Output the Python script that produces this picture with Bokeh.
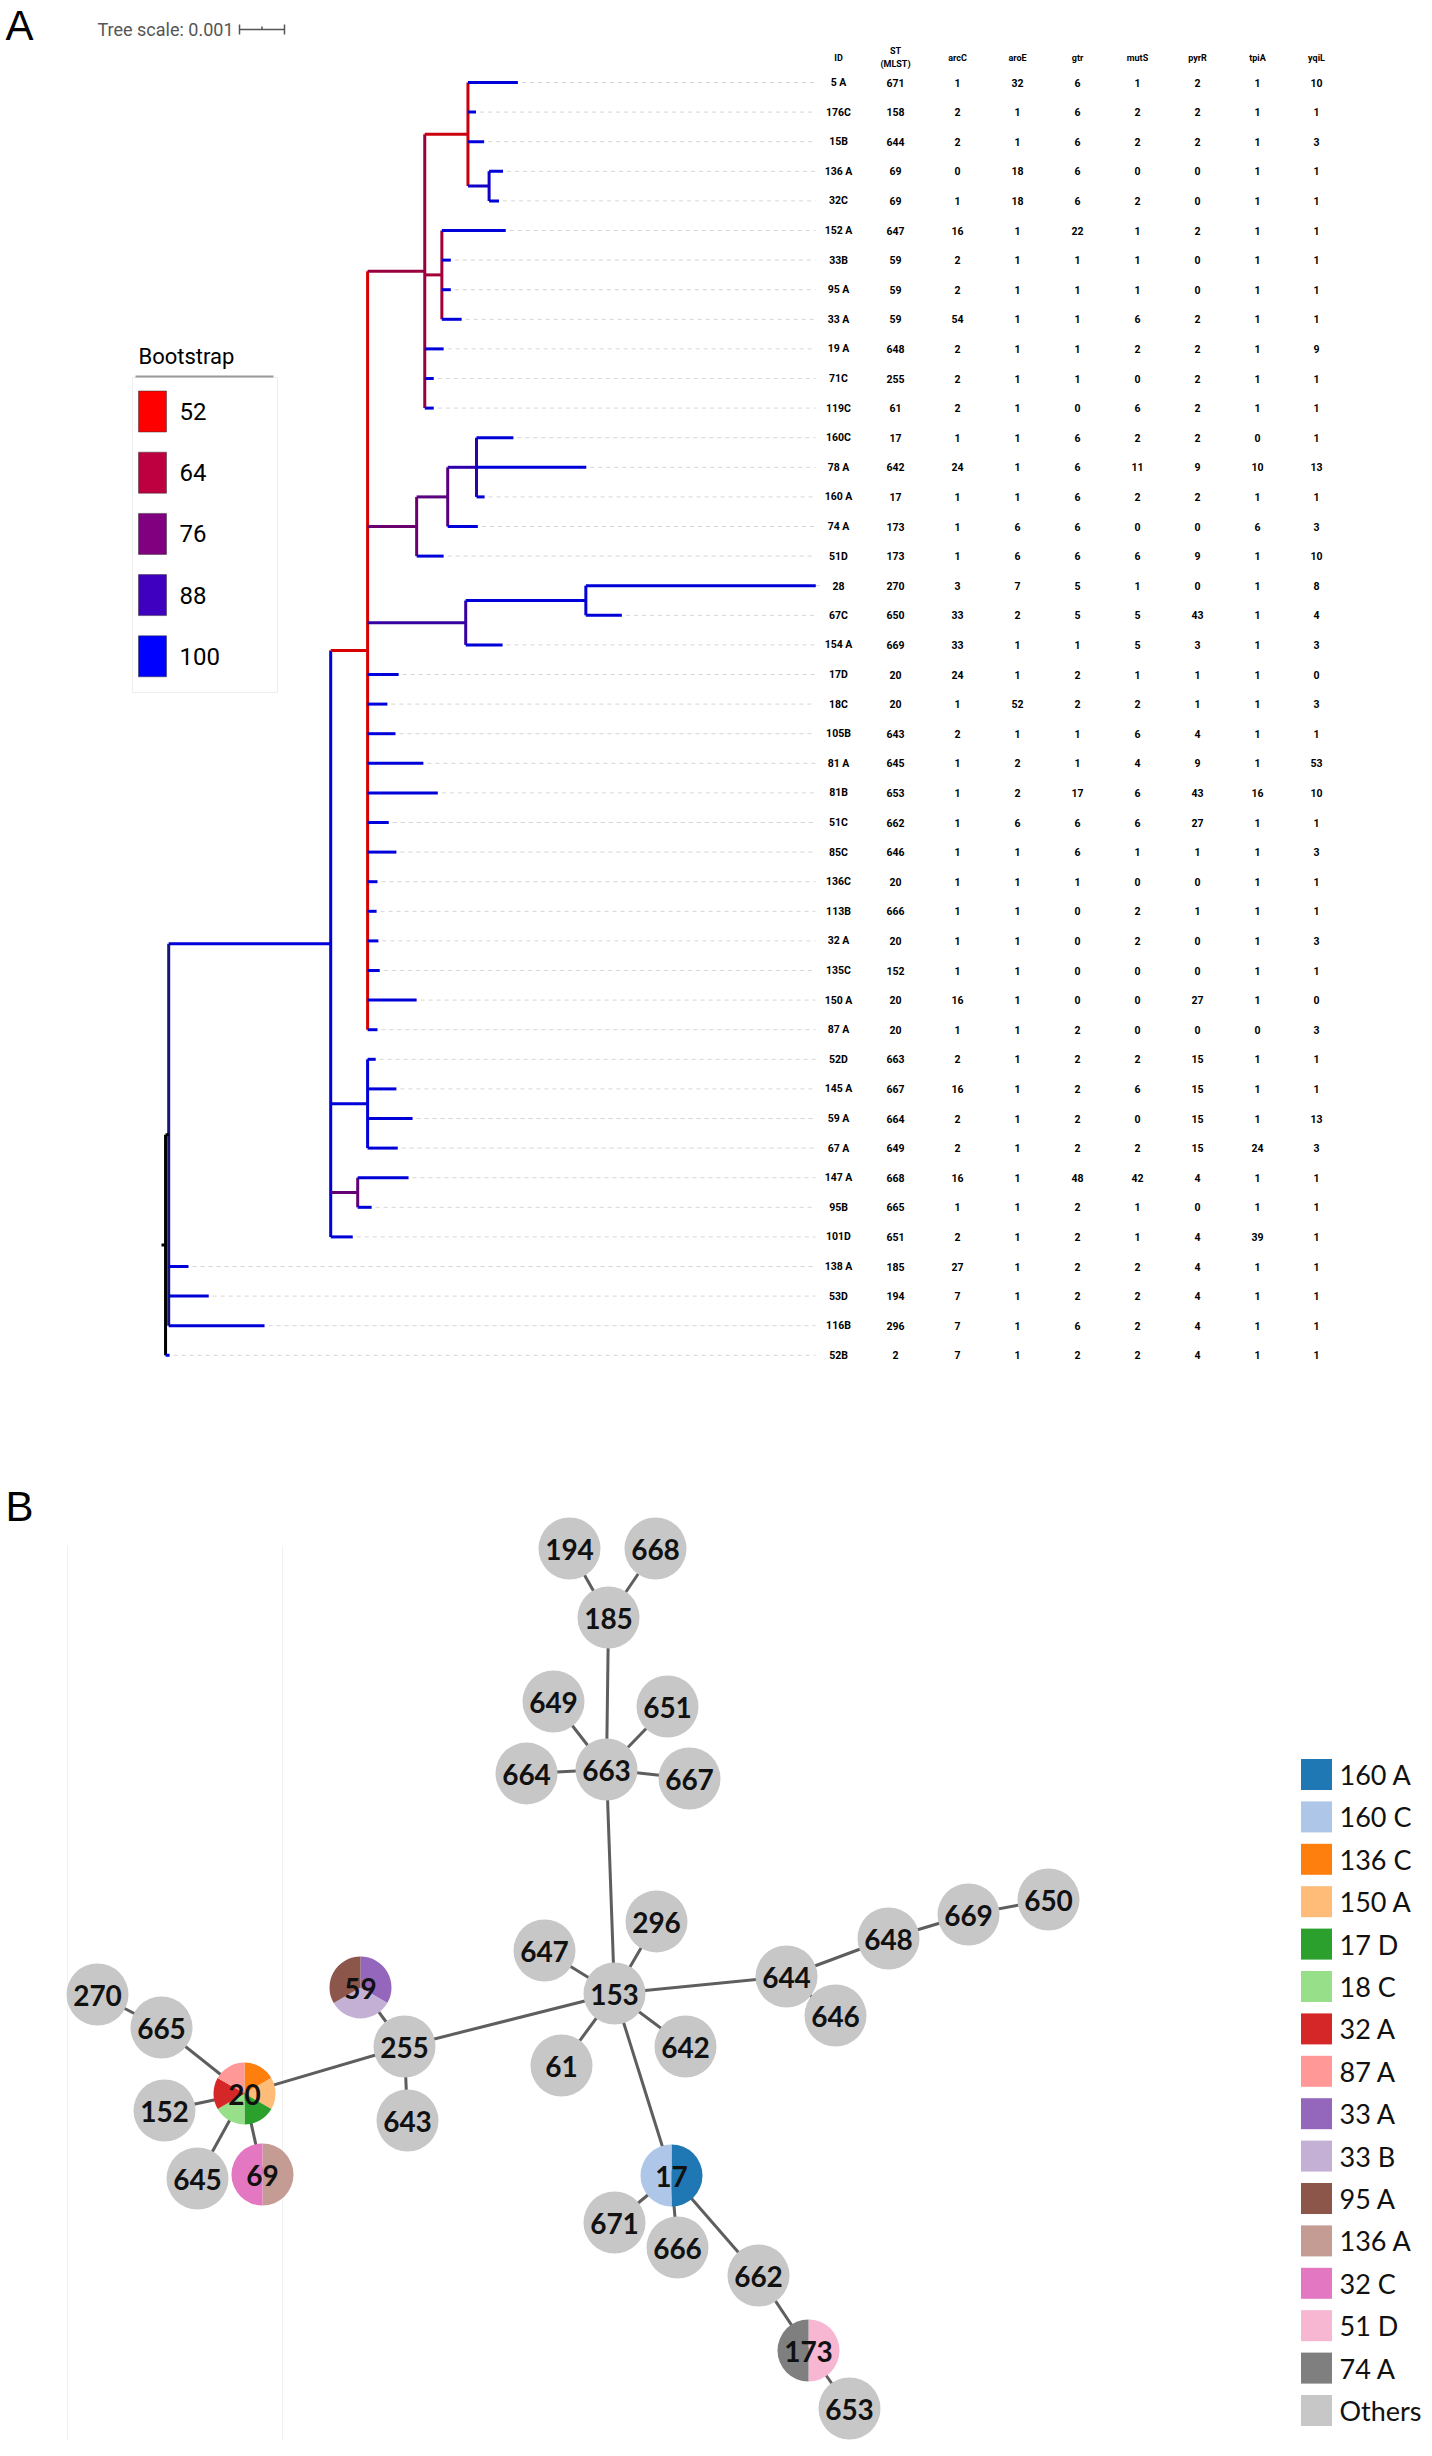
from bokeh.plotting import figure
from bokeh.models import Range1d
from bokeh.core.properties import value
from bokeh.embed import file_html
from bokeh.resources import INLINE

# ---------------- Panel A data: MLST table ----------------
ids = ["5 A", "176C", "15B", "136 A", "32C", "152 A", "33B", "95 A", "33 A", "19 A",
       "71C", "119C", "160C", "78 A", "160 A", "74 A", "51D", "28", "67C", "154 A",
       "17D", "18C", "105B", "81 A", "81B", "51C", "85C", "136C", "113B", "32 A",
       "135C", "150 A", "87 A", "52D", "145 A", "59 A", "67 A", "147 A", "95B", "101D",
       "138 A", "53D", "116B", "52B"]
st = [671, 158, 644, 69, 69, 647, 59, 59, 59, 648, 255, 61, 17, 642, 17, 173, 173, 270, 650, 669,
      20, 20, 643, 645, 653, 662, 646, 20, 666, 20, 152, 20, 20, 663, 667, 664, 649, 668, 665, 651,
      185, 194, 296, 2]
arcC = [1, 2, 2, 0, 1, 16, 2, 2, 54, 2, 2, 2, 1, 24, 1, 1, 1, 3, 33, 33, 24, 1, 2, 1, 1, 1, 1, 1, 1, 1,
        1, 16, 1, 2, 16, 2, 2, 16, 1, 2, 27, 7, 7, 7]
aroE = [32, 1, 1, 18, 18, 1, 1, 1, 1, 1, 1, 1, 1, 1, 1, 6, 6, 7, 2, 1, 1, 52, 1, 2, 2, 6, 1, 1, 1, 1,
        1, 1, 1, 1, 1, 1, 1, 1, 1, 1, 1, 1, 1, 1]
gtr = [6, 6, 6, 6, 6, 22, 1, 1, 1, 1, 1, 0, 6, 6, 6, 6, 6, 5, 5, 1, 2, 2, 1, 1, 17, 6, 6, 1, 0, 0,
       0, 0, 2, 2, 2, 2, 2, 48, 2, 2, 2, 2, 6, 2]
mutS = [1, 2, 2, 0, 2, 1, 1, 1, 6, 2, 0, 6, 2, 11, 2, 0, 6, 1, 5, 5, 1, 2, 6, 4, 6, 6, 1, 0, 2, 2,
        0, 0, 0, 2, 6, 0, 2, 42, 1, 1, 2, 2, 2, 2]
pyrR = [2, 2, 2, 0, 0, 2, 0, 0, 2, 2, 2, 2, 2, 9, 2, 0, 9, 0, 43, 3, 1, 1, 4, 9, 43, 27, 1, 0, 1, 0,
        0, 27, 0, 15, 15, 15, 15, 4, 0, 4, 4, 4, 4, 4]
tpiA = [1, 1, 1, 1, 1, 1, 1, 1, 1, 1, 1, 1, 0, 10, 1, 6, 1, 1, 1, 1, 1, 1, 1, 1, 16, 1, 1, 1, 1, 1,
        1, 1, 0, 1, 1, 1, 24, 1, 1, 39, 1, 1, 1, 1]
yqiL = [10, 1, 3, 1, 1, 1, 1, 1, 1, 9, 1, 1, 1, 13, 1, 3, 10, 8, 4, 3, 0, 3, 1, 53, 10, 1, 3, 1, 1, 3,
        1, 0, 3, 1, 1, 13, 3, 1, 1, 1, 1, 1, 1, 1]
table_headers = ["ID", "ST\n(MLST)", "arcC", "aroE", "gtr", "mutS", "pyrR", "tpiA", "yqiL"]

# ---------------- Panel A data: tree (branch lengths in units of 0.0001) ----------------
inner_nodes = ["root", "nM", "nJ", "nD", "nC", "nA", "nA2", "nB", "nE", "nF", "nG", "nH", "nI", "nK", "nL"]
inner_parent = [None, "root", "nM", "nJ", "nD", "nC", "nA", "nC", "nD", "nE", "nF", "nD", "nH", "nJ", "nJ"]
inner_length = [0.9, 0.7, 36.0, 8.2, 12.7, 9.6, 4.7, 3.8, 10.9, 6.9, 6.4, 21.8, 26.7, 8.2, 6.0]
inner_boot = [None, None, 100, 52, 66, 55, 96, 64, 76, 80, 90, 88, 100, 100, 78]
leaf_parent = ["nA", "nA", "nA", "nA2", "nA2", "nB", "nB", "nB", "nB", "nC",
               "nC", "nC", "nG", "nG", "nG", "nF", "nE", "nI", "nI", "nH",
               "nD", "nD", "nD", "nD", "nD", "nD", "nD", "nD", "nD", "nD",
               "nD", "nD", "nD", "nK", "nK", "nK", "nK", "nL", "nL", "nJ",
               "nM", "nM", "nM", "root"]
leaf_length = [11.1, 1.8, 3.6, 3.1, 2.2, 14.2, 2.0, 2.0, 4.4, 4.2,
               2.0, 2.0, 8.2, 24.4, 1.8, 6.7, 6.0, 51.1, 8.0, 8.2,
               6.9, 4.4, 6.2, 12.4, 15.6, 4.7, 6.4, 2.2, 2.0, 2.4,
               2.7, 10.9, 2.2, 1.8, 6.4, 10.0, 6.7, 11.3, 3.1, 4.9,
               4.4, 8.9, 21.3, 0.9]
boot_legend = [52, 64, 76, 88, 100]
tree_scale_value = 0.001

# ---------------- Panel B data: MST of STs ----------------
net_st = ["194", "668", "185", "649", "651", "664", "663", "667", "647", "296", "153", "644",
          "648", "669", "650", "646", "642", "61", "255", "59", "643", "270", "665", "20",
          "152", "645", "69", "17", "671", "666", "662", "173", "653"]
net_x = [569, 655, 608, 553, 667, 526, 606, 689, 544, 656, 614, 786,
         888, 968, 1048, 835, 685, 561, 404, 360, 407, 97, 161, 244,
         164, 197, 262, 671, 614, 677, 758, 808, 849]
net_y = [1548, 1548, 1617, 1701, 1706, 1773, 1769, 1778, 1950, 1921, 1993, 1976,
         1938, 1914, 1899, 2015, 2046, 2065, 2046, 1987, 2120, 1994, 2027, 2093,
         2110, 2178, 2174, 2175, 2222, 2247, 2275, 2350, 2408]
edge_from = ["194", "668", "663", "649", "651", "664", "667", "153", "647", "296", "61", "642",
             "644", "648", "669", "650", "644", "153", "255", "255", "255", "20", "665", "20",
             "20", "20", "153", "17", "17", "17", "662", "173"]
edge_to = ["185", "185", "185", "663", "663", "663", "663", "663", "153", "153", "153", "153",
           "153", "644", "648", "669", "646", "255", "59", "643", "20", "665", "270", "152",
           "645", "69", "17", "671", "666", "662", "173", "653"]
groups = ["160 A", "160 C", "136 C", "150 A", "17 D", "18 C", "32 A", "87 A", "33 A", "33 B",
          "95 A", "136 A", "32 C", "51 D", "74 A", "Others"]
group_colors = ["#1f77b4", "#aec7e8", "#ff7f0e", "#ffbb78", "#2ca02c", "#98df8a", "#d62728",
                "#ff9896", "#9467bd", "#c5b0d5", "#8c564b", "#c49c94", "#e377c2", "#f7b6d2",
                "#7f7f7f", "#c7c7c7"]
pie_st = ["20", "59", "69", "17", "173"]
pie_members = [["136 C", "150 A", "17 D", "18 C", "32 A", "87 A"],
               ["33 A", "33 B", "95 A"],
               ["136 A", "32 C"],
               ["160 A", "160 C"],
               ["51 D", "74 A"]]

# ---------------- layout constants ----------------
W, H = 1428, 2440
PX_PER_UNIT = 4.5          # px per 0.0001 substitutions/site
ROOT_X = 161
ROW0_Y, ROW_DY = 82, 29.6
LEADER_END = 815
COL_X = [838, 895, 957, 1017, 1077, 1137, 1197, 1257, 1316]
SANS = value("Roboto")
NODE_R = 31

p = figure(width=W, height=H, x_range=Range1d(0, W), y_range=Range1d(H, 0),
           output_backend="svg", toolbar_location=None, min_border=0,
           x_axis_type=None, y_axis_type=None)
p.grid.visible = False
p.outline_line_color = None


def boot_color(b, dark=1.0):
    if b is None:
        return "#000000"
    t = min(max((b - 52) / 48.0, 0), 1)
    r = int(round(255 * (1 - t) * dark))
    bl = int(round(255 * t * dark))
    return "#%02x%02x%02x" % (r, 0, bl)


# ---- tree layout ----
parent = dict(zip(inner_nodes, inner_parent))
length = dict(zip(inner_nodes, inner_length))
boot = dict(zip(inner_nodes, inner_boot))
for nm, par, ln in zip(ids, leaf_parent, leaf_length):
    parent[nm] = par
    length[nm] = ln
    boot[nm] = 100

xpos = {}


def get_x(n):
    if n in xpos:
        return xpos[n]
    par = parent[n]
    base = ROOT_X if par is None else get_x(par)
    xpos[n] = base + length[n] * PX_PER_UNIT
    return xpos[n]


ypos = {nm: ROW0_Y + i * ROW_DY for i, nm in enumerate(ids)}
children = {n: [] for n in inner_nodes}
for n, par in parent.items():
    if par is not None:
        children[par].append(n)


def get_y(n):
    if n in ypos:
        return ypos[n]
    ys = [get_y(c) for c in children[n]]
    ypos[n] = (min(ys) + max(ys)) / 2.0
    return ypos[n]


for n in list(parent):
    get_x(n)
    get_y(n)

hx0, hx1, hy, hc = [], [], [], []
vx, vy0, vy1, vc = [], [], [], []
for n, par in parent.items():
    x0 = ROOT_X if par is None else xpos[par]
    hx0.append(x0); hx1.append(xpos[n]); hy.append(ypos[n])
    hc.append(boot_color(boot[n], 0.85) if boot[n] is not None else "#000000")
for n in inner_nodes:
    ys = [ypos[c] for c in children[n]]
    vx.append(xpos[n]); vy0.append(min(ys)); vy1.append(max(ys))
    if n == "nM":
        vc.append("#16167a")
    else:
        vc.append(boot_color(boot[n], 0.85) if boot[n] is not None else "#000000")

# leaders
p.segment(x0=[xpos[n] + 4 for n in ids], x1=[LEADER_END] * len(ids),
          y0=[ypos[n] for n in ids], y1=[ypos[n] for n in ids],
          line_color="#d6d6d6", line_width=1, line_dash="4 4")
p.segment(x0=vx, x1=vx, y0=vy0, y1=vy1, line_color=vc, line_width=3)
p.segment(x0=hx0, x1=hx1, y0=hy, y1=hy, line_color=hc, line_width=3)

# table
cols = [ids, st, arcC, aroE, gtr, mutS, pyrR, tpiA, yqiL]
for cx, col in zip(COL_X, cols):
    p.text(x=[cx] * len(col), y=[ypos[n] for n in ids], text=[str(v) for v in col],
           text_align="center", text_baseline="middle", text_font_size="10.5px",
           text_font=SANS, text_font_style="bold", text_color="#000000")
for cx, h in zip(COL_X, table_headers):
    if "\n" in h:
        a, b = h.split("\n")
        p.text(x=[cx, cx], y=[50, 63], text=[a, b], text_align="center", text_baseline="middle",
               text_font_size="9px", text_font=SANS, text_font_style="bold", text_color="#000000")
    else:
        p.text(x=[cx], y=[57], text=[h], text_align="center", text_baseline="middle",
               text_font_size="9px", text_font=SANS, text_font_style="bold", text_color="#000000")

# tree scale
sb0 = 239
sb1 = sb0 + tree_scale_value / 0.0001 * PX_PER_UNIT
p.text(x=[97], y=[29], text=["Tree scale: %g" % tree_scale_value], text_align="left",
       text_baseline="middle", text_font_size="18px", text_font=SANS, text_color="#555555")
p.segment(x0=[sb0, sb0, sb1, (sb0 + sb1) / 2], x1=[sb1, sb0, sb1, (sb0 + sb1) / 2],
          y0=[29, 24, 24, 26], y1=[29, 34, 34, 29], line_color="#555555", line_width=1.5)

# bootstrap legend
p.quad(left=[132], right=[277], top=[377], bottom=[692], fill_color="white",
       line_color="#eeeeee", line_width=1)
p.segment(x0=[135], x1=[273], y0=[376], y1=[376], line_color="#9a9a9a", line_width=2)
p.text(x=[138], y=[356], text=["Bootstrap"], text_align="left", text_baseline="middle",
       text_font_size="22px", text_font=SANS, text_color="#000000")
ly = [411 + 61.2 * i for i in range(len(boot_legend))]
p.rect(x=[152] * len(ly), y=ly, width=28, height=41,
       fill_color=[boot_color(b) for b in boot_legend], line_color="#333333", line_width=0.5)
p.text(x=[179] * len(ly), y=ly, text=[str(b) for b in boot_legend], text_align="left",
       text_baseline="middle", text_font_size="24px", text_font=SANS, text_color="#000000")

# panel letters
p.text(x=[5, 5], y=[25, 1506], text=["A", "B"], text_align="left", text_baseline="middle",
       text_font_size="42px", text_font=value("Liberation Sans"), text_color="#000000")

# ---------------- Panel B ----------------
p.segment(x0=[67, 282], x1=[67, 282], y0=[1545, 1545], y1=[2440, 2440],
          line_color="#f1f1f1", line_width=1)
npos = {s: (x, y) for s, x, y in zip(net_st, net_x, net_y)}
p.segment(x0=[npos[a][0] for a in edge_from], y0=[npos[a][1] for a in edge_from],
          x1=[npos[b][0] for b in edge_to], y1=[npos[b][1] for b in edge_to],
          line_color="#5e5e5e", line_width=3)
gcol = dict(zip(groups, group_colors))
plain = [s for s in net_st if s not in pie_st]
p.circle(x=[npos[s][0] for s in plain], y=[npos[s][1] for s in plain], radius=NODE_R,
         fill_color=gcol["Others"], line_color=None)
wx, wy, wa0, wa1, wc = [], [], [], [], []
for s, mem in zip(pie_st, pie_members):
    n = len(mem)
    for k, g in enumerate(mem):
        top = 90 - k * 360.0 / n
        bot = 90 - (k + 1) * 360.0 / n
        wx.append(npos[s][0]); wy.append(npos[s][1])
        wa0.append(bot); wa1.append(top); wc.append(gcol[g])
p.wedge(x=wx, y=wy, radius=NODE_R, start_angle=wa0, end_angle=wa1,
        start_angle_units="deg", end_angle_units="deg",
        direction="anticlock", fill_color=wc, line_color=None)
p.text(x=[npos[s][0] for s in net_st], y=[npos[s][1] + 1 for s in net_st], text=net_st,
       text_align="center", text_baseline="middle", text_font_size="28px",
       text_font=value("Lato"), text_font_style="bold", text_color="#111111")

# legend B
gy = [1774 + 42.4 * i for i in range(len(groups))]
p.rect(x=[1316] * len(groups), y=gy, width=31, height=31, fill_color=group_colors, line_color=None)
p.text(x=[1339] * len(groups), y=gy, text=groups, text_align="left", text_baseline="middle",
       text_font_size="27px", text_font=value("Lato"), text_color="#111111")

open("out.html", "w").write(file_html(p, INLINE))
